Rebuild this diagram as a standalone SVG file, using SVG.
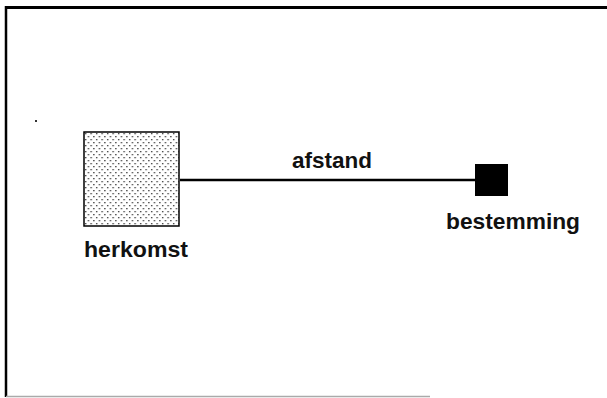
<svg xmlns="http://www.w3.org/2000/svg" width="607" height="398" viewBox="0 0 607 398">
  <style>
    .label { font-family: "Liberation Sans", Arial, sans-serif; font-weight: bold; font-size: 22px; fill: #111; }
    .frame { stroke: #000; fill: none; }
  </style>
  <defs>
    <pattern id="dots" x="84" y="132" width="5.5" height="6" patternUnits="userSpaceOnUse">
      <rect x="1" y="1" width="1.3" height="1.3" fill="#333"/>
      <rect x="3.75" y="4" width="1.3" height="1.3" fill="#333"/>
    </pattern>
  </defs>
  <rect width="607" height="398" fill="#fff"/>
  <!-- frame -->
  <g id="frame">
    <line class="frame" x1="5" y1="7.5" x2="607" y2="7.5" stroke-width="3"/>
    <line class="frame" x1="6" y1="6" x2="6" y2="397" stroke-width="2.5"/>
    <line x1="6" y1="396.5" x2="430" y2="396.5" stroke="#aaa" stroke-width="1.5"/>
  </g>
  <rect x="35" y="120" width="2" height="2" fill="#333"/>
  <!-- connectors -->
  <g id="connectors">
    <line x1="180" y1="180" x2="476" y2="180" stroke="#000" stroke-width="2.5"/>
  </g>
  <g id="herkomst">
    <rect x="84" y="132" width="95" height="94" fill="url(#dots)" stroke="#000" stroke-width="1.5"/>
    <text class="label" x="84" y="257" textLength="104" lengthAdjust="spacingAndGlyphs">herkomst</text>
  </g>
  <g id="bestemming">
    <rect x="475" y="164" width="33" height="32" fill="#000"/>
    <text class="label" x="446" y="229" textLength="134" lengthAdjust="spacingAndGlyphs">bestemming</text>
  </g>
  <g id="afstand">
    <text class="label" x="292" y="168" textLength="80" lengthAdjust="spacingAndGlyphs">afstand</text>
  </g>
</svg>
